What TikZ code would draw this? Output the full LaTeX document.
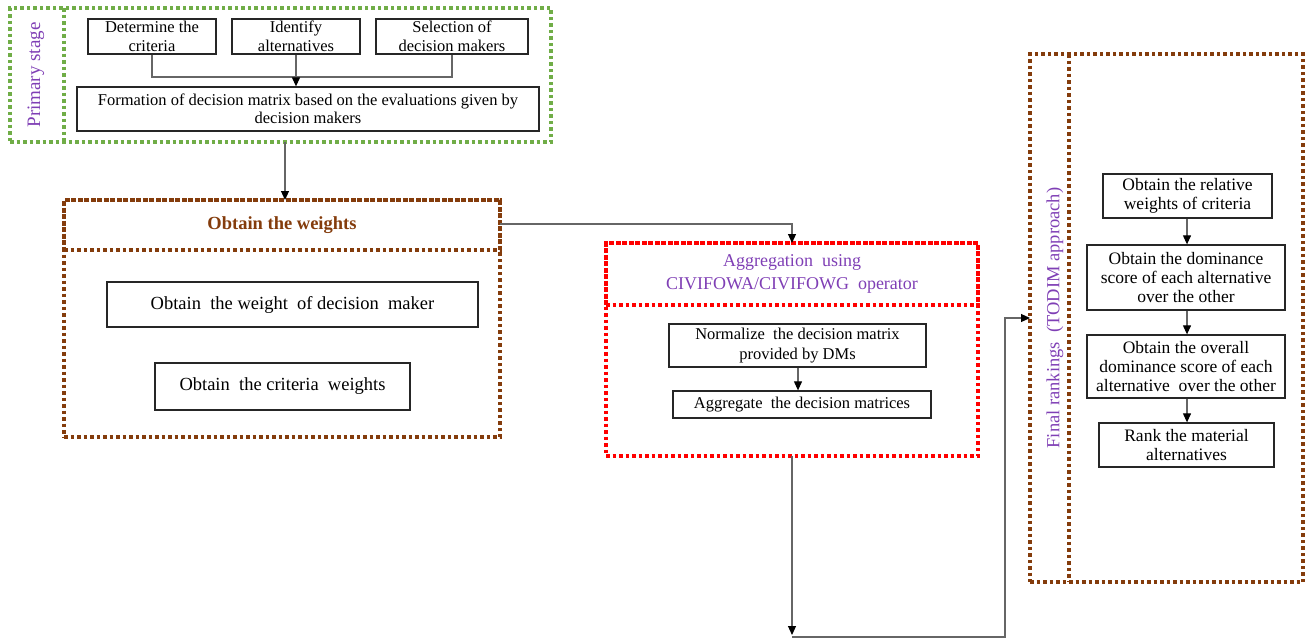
\documentclass[tikz,border=0pt]{standalone}
\usepackage{fontspec}
\setmainfont{Liberation Serif}
\usetikzlibrary{arrows.meta}
\definecolor{grn}{HTML}{70AD47}
\definecolor{brn}{HTML}{843C0C}
\definecolor{redd}{HTML}{FF0000}
\definecolor{pur}{HTML}{7F3FB5}
\definecolor{conn}{HTML}{666666}
\begin{document}
\begin{tikzpicture}[x=1pt,y=-1pt,
  box/.style={draw=black!85, line width=1.3pt, align=center, inner sep=1pt,
    font=\fontsize{16.5}{18.5}\selectfont},
  bigbox/.style={box, font=\fontsize{18.5}{21}\selectfont},
  rbox/.style={box, font=\fontsize{17.5}{19}\selectfont},
  dotline/.style={line width=3.5pt, dash pattern=on 3.5pt off 3pt},
  container/.style={dotline, inner sep=0pt, outer sep=0pt},
  conn/.style={draw=conn, line width=1.1pt},
  arr/.style={conn, -{Triangle[length=9pt,width=8pt,fill=black,color=black]}},
  lab/.style={text=pur, font=\fontsize{19}{21}\selectfont, rotate=90}
]
\useasboundingbox (0,0) rectangle (1306,638);

% ---------- Primary stage ----------
\node[container, draw=grn, minimum width=541, minimum height=134] (prim) at (280.5,75) {};
\draw[dotline, draw=grn] (prim.north -| 64,0) -- (prim.south -| 64,0);
\node[lab] (primlab) at (36,75) {Primary stage};

\node[box, minimum width=128, minimum height=35] (det) at (152,36.5) {Determine the\\criteria};
\node[box, minimum width=128, minimum height=35] (ident) at (296,36.5) {Identify\\alternatives};
\node[box, minimum width=152, minimum height=35] (sel) at (452,36.5) {Selection of\\decision makers};
\node[box, minimum width=462, minimum height=44] (form) at (308,109) {Formation of decision matrix based on the evaluations given by\\decision makers};

\coordinate (jn) at (296,77);
\draw[conn] (det.south) |- (jn) -| (sel.south);
\draw[arr] (ident.south) -- (ident.south |- form.north);

% ---------- Obtain the weights ----------
\node[container, draw=brn, minimum width=436, minimum height=237] (wts) at (282,318.5) {};
\node[container, draw=brn, minimum width=436, minimum height=50,
      text=brn, font=\bfseries\fontsize{18.5}{21}\selectfont] (wtshead) at (282,225) {Obtain the weights};
\node[bigbox, minimum width=371, minimum height=45] (dmw) at (292.5,304.5) {Obtain\ \ the weight\ \ of decision\ \ maker};
\node[bigbox, line width=1.8pt, minimum width=255, minimum height=47] (cw) at (282.5,386.5) {Obtain\ \ the criteria\ \ weights};

\coordinate (p1) at (285,142);
\draw[arr] (p1) -- (p1 |- wts.north);

% ---------- Aggregation ----------
\node[container, draw=redd, minimum width=372, minimum height=213] (agg) at (792,349.5) {};
\node[container, draw=redd, minimum width=372, minimum height=62, align=center,
      text=pur, font=\fontsize{18}{23}\selectfont] (agghead) at (792,274) {Aggregation\ \ using\\CIVIFOWA/CIVIFOWG\ \ operator};
\node[box, minimum width=257, minimum height=43, font=\fontsize{16.5}{20}\selectfont] (norm) at (797.5,345.5) {Normalize\ \ the decision matrix\\provided by DMs};
\node[box, minimum width=258, minimum height=27] (aggr) at (802,404.5) {Aggregate\ \ the decision matrices};
\draw[arr] (norm.south -| 798,0) -- (aggr.north -| 798,0);

\coordinate (wr) at (wtshead.east |- 0,224);
\draw[arr] (wr) -| (agg.north);

% ---------- Final rankings ----------
\node[container, draw=brn, minimum width=273, minimum height=528] (fin) at (1166.5,318) {};
\draw[dotline, draw=brn] (fin.north -| 1069,0) -- (fin.south -| 1069,0);
\node[lab, font=\fontsize{18.5}{21}\selectfont] (finlab) at (1055,318) {Final rankings\ \ (TODIM approach)};

\node[rbox, minimum width=169, minimum height=44] (rel) at (1187.5,196) {Obtain the relative\\weights of criteria};
\node[rbox, minimum width=198, minimum height=65] (dom) at (1186,277.5) {Obtain the dominance\\score of each alternative\\over the other};
\node[rbox, minimum width=198, minimum height=63] (ovr) at (1186,366.5) {Obtain the overall\\dominance score of each\\alternative\ \ over the other};
\node[rbox, minimum width=175, minimum height=44] (rank) at (1186.5,445) {Rank the material\\alternatives};

\draw[arr] (rel.south -| 1187,0) -- (dom.north -| 1187,0);
\draw[arr] (dom.south -| 1187,0) -- (ovr.north -| 1187,0);
\draw[arr] (ovr.south -| 1187,0) -- (rank.north -| 1187,0);

% ---------- Aggregation to final ----------
\coordinate (c1) at (792,635);
\coordinate (c2) at (1005,318);
\draw[arr] (agg.south) -- (c1);
\draw[arr] (c1 |- 0,637) -| (c2) -- (fin.west |- c2);
\end{tikzpicture}
\end{document}
